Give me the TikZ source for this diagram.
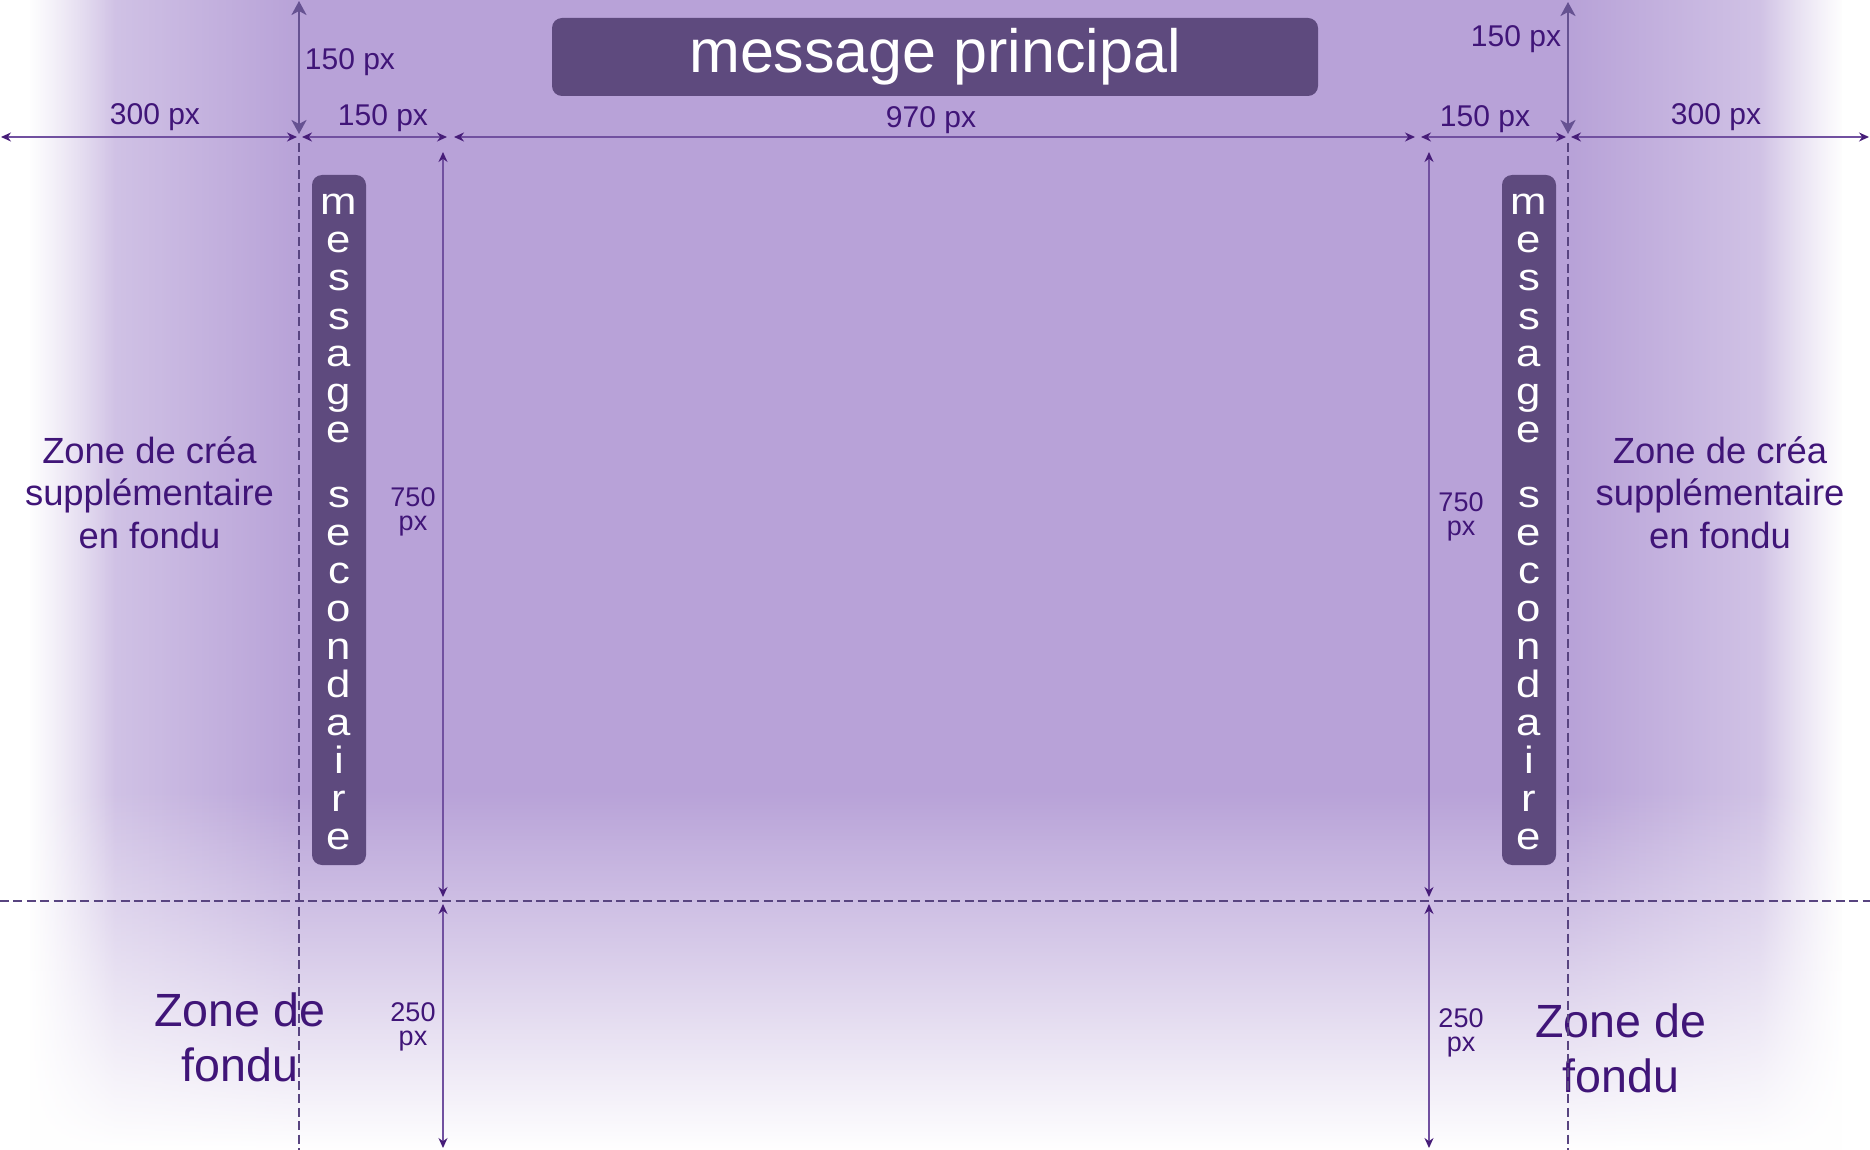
\documentclass[tikz,border=0pt]{standalone}
\usepackage{fontspec}
\setmainfont{Liberation Sans}
\newfontfamily\stretchfont[FakeStretch=1.15]{Liberation Sans}
\usetikzlibrary{arrows.meta,fadings}
\definecolor{bgpurple}{RGB}{184,162,216}
\definecolor{boxpurple}{RGB}{94,74,126}
\definecolor{txtpurple}{RGB}{64,21,120}
\definecolor{dimline}{RGB}{113,80,160}
\definecolor{dimhead}{RGB}{70,28,120}
\definecolor{bigarrow}{RGB}{102,82,146}
\definecolor{dashcol}{RGB}{88,68,128}
\tikzfading[name=fadeRightward, left color=transparent!0, right color=transparent!100]
\tikzfading[name=fadeLeftward, left color=transparent!100, right color=transparent!0]
\tikzfading[name=fadeDown, top color=transparent!100, bottom color=transparent!0]
\begin{document}
\begin{tikzpicture}[x=0.5pt,y=-0.5pt,
  mainbox/.style={fill=boxpurple, rounded corners=5pt, minimum width=383pt, minimum height=39pt, inner sep=0pt, text=white, font=\fontsize{30.5}{30.5}\selectfont},
  secbox/.style={fill=boxpurple, rounded corners=5pt, minimum width=27pt, minimum height=345pt, inner sep=0pt},
  secletter/.style={anchor=base, inner sep=0pt, text=white, font=\stretchfont\fontsize{19}{19}\selectfont},
  dimlabel/.style={anchor=base, inner sep=0pt, text=txtpurple, font=\fontsize{15}{15}\selectfont},
  stacklabel/.style={inner sep=0pt, align=center, text=txtpurple, font=\fontsize{13.5}{12.3}\selectfont},
  zonecrea/.style={inner sep=0pt, align=center, text=txtpurple, font=\fontsize{18.2}{21.3}\selectfont},
  zonefondu/.style={inner sep=0pt, align=center, text=txtpurple, font=\fontsize{23.3}{27.5}\selectfont},
  dim/.style={draw=dimline, line width=0.7pt, >={Stealth[length=5pt,width=4.5pt,color=dimhead]}, <->},
  bigdim/.style={draw=bigarrow, line width=1.4pt, >={Stealth[length=7pt,width=7.5pt,inset=2pt]}, <->},
  guide/.style={draw=dashcol, line width=0.7pt, dash pattern=on 4.5pt off 2.2pt}
]
\useasboundingbox (0,0) rectangle (1870,1150);
% background and fades
\fill[bgpurple] (0,0) rectangle (1870,1150);
\fill[white] (0,0) rectangle (30,1150);
\fill[white, path fading=fadeRightward] (29,0) rectangle (115,1150);
\fill[white, fill opacity=0.5, path fading=fadeRightward] (29,0) rectangle (300,1150);
\fill[white] (1842,0) rectangle (1870,1150);
\fill[white, path fading=fadeLeftward] (1760,0) rectangle (1843,1150);
\fill[white, fill opacity=0.5, path fading=fadeLeftward] (1570,0) rectangle (1843,1150);
\fill[white, path fading=fadeDown] (0,790) rectangle (1870,1150);

% main message
\node[mainbox] (mainmsg) at (935,57) {message principal};

% secondary boxes
\node[secbox] (secL) at (339,520) {};
\node[secbox] (secR) at (1529,520) {};
\foreach \ch [count=\k from 0] in {m,e,s,s,a,g,e} {
  \node[secletter] (sLa\k) at (339,{215+38*\k}) {\ch};
  \node[secletter] (sRa\k) at (1529,{215+38*\k}) {\ch};
}
\foreach \ch [count=\k from 0] in {s,e,c,o,n,d,a,i,r,e} {
  \node[secletter] (sLb\k) at (339,{507+38*\k}) {\ch};
  \node[secletter] (sRb\k) at (1529,{507+38*\k}) {\ch};
}

% zone texts
\node[zonecrea] (creaL) at (149.5,492.5) {Zone de créa\\supplémentaire\\en fondu};
\node[zonecrea] (creaR) at (1720,492.5) {Zone de créa\\supplémentaire\\en fondu};
\node[zonefondu] (fonduL) at (240,1037.5) {Zone de\\fondu};
\node[zonefondu] (fonduR) at (1621,1048.5) {Zone de\\fondu};

% guides
\coordinate (gL0) at (299,143); \coordinate (gL1) at (299,1150);
\coordinate (gR0) at (1568,143); \coordinate (gR1) at (1568,1150);
\coordinate (gH0) at (0,901); \coordinate (gH1) at (1870,901);
\draw[guide] (gL0) -- (gL1);
\draw[guide] (gR0) -- (gR1);
\draw[guide] (gH0) -- (gH1);

% horizontal dimensions
\coordinate (hL0) at (1,137); \coordinate (hL1) at (297,137);
\coordinate (hA0) at (302,137); \coordinate (hA1) at (447,137);
\coordinate (hM0) at (454,137); \coordinate (hM1) at (1415,137);
\coordinate (hB0) at (1421,137); \coordinate (hB1) at (1566,137);
\coordinate (hR0) at (1571,137); \coordinate (hR1) at (1869,137);
\draw[dim] (hL0) -- (hL1);
\draw[dim] (hA0) -- (hA1);
\draw[dim] (hM0) -- (hM1);
\draw[dim] (hB0) -- (hB1);
\draw[dim] (hR0) -- (hR1);

% top vertical dimensions
\coordinate (vTL0) at (299,1); \coordinate (vTL1) at (299,134);
\coordinate (vTR0) at (1568,2); \coordinate (vTR1) at (1568,134);
\draw[bigdim] (vTL0) -- (vTL1);
\draw[bigdim] (vTR0) -- (vTR1);

% vertical 750 / 250 dimensions
\coordinate (vL0) at (443,152); \coordinate (vL1) at (443,897);
\coordinate (vL2) at (443,904); \coordinate (vL3) at (443,1148);
\coordinate (vR0) at (1429,152); \coordinate (vR1) at (1429,897);
\coordinate (vR2) at (1429,904); \coordinate (vR3) at (1429,1148);
\draw[dim] (vL0) -- (vL1);
\draw[dim] (vL2) -- (vL3);
\draw[dim] (vR0) -- (vR1);
\draw[dim] (vR2) -- (vR3);

% labels
\node[dimlabel] (l300L) at (155,125) {300 px};
\node[dimlabel] (l150Lv) at (350,70) {150 px};
\node[dimlabel] (l150Lh) at (383,126) {150 px};
\node[dimlabel] (l970) at (931,128) {970 px};
\node[dimlabel] (l150Rh) at (1485,127) {150 px};
\node[dimlabel] (l150Rv) at (1516,47) {150 px};
\node[dimlabel] (l300R) at (1716,125) {300 px};
\node[stacklabel] (l750L) at (413,512) {750\\px};
\node[stacklabel] (l750R) at (1461,517) {750\\px};
\node[stacklabel] (l250L) at (413,1027) {250\\px};
\node[stacklabel] (l250R) at (1461,1033) {250\\px};
\end{tikzpicture}
\end{document}
